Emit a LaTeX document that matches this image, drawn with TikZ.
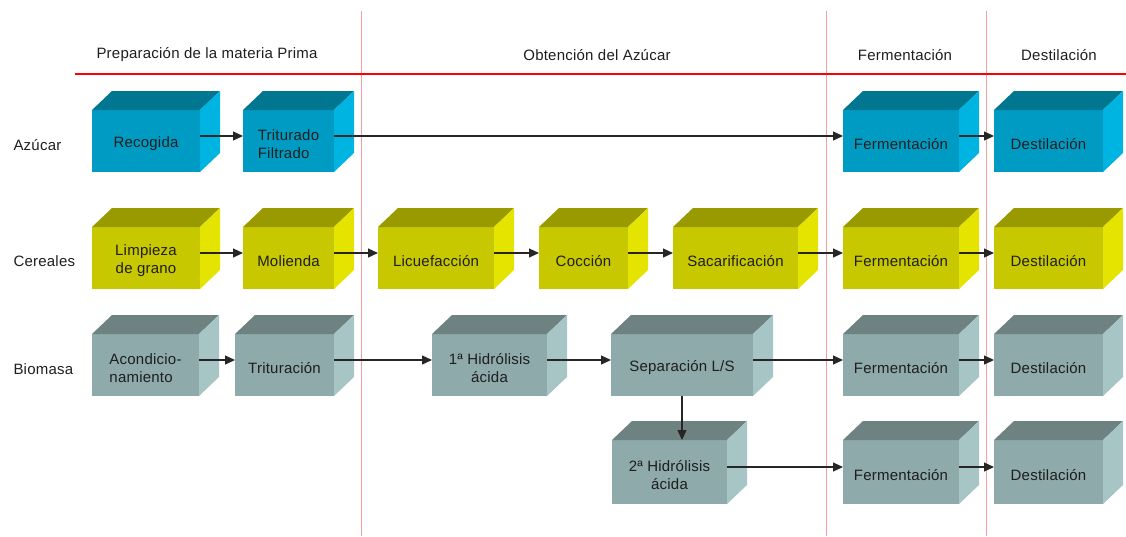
\documentclass[tikz,border=0pt]{standalone}
\usepackage{fontspec}
\setmainfont{Liberation Sans}[LetterSpace=1.5]
\usetikzlibrary{arrows.meta}

% face colours of the three feedstock lines
\definecolor{azfront}{HTML}{009BC3}
\definecolor{aztop}{HTML}{007691}
\definecolor{azside}{HTML}{00B4E1}
\definecolor{cefront}{HTML}{C8C800}
\definecolor{cetop}{HTML}{999900}
\definecolor{ceside}{HTML}{E4E400}
\definecolor{bifront}{HTML}{8EAAAA}
\definecolor{bitop}{HTML}{6E8282}
\definecolor{biside}{HTML}{A8C5C6}
\definecolor{txt}{HTML}{1E1E1E}
\definecolor{divider}{HTML}{F4A0A0}

\tikzset{
  box/.style={rectangle, inner sep=0pt, outer sep=0pt},
  boxtext/.style={inner sep=0pt, text=txt, font=\fontsize{15}{18}\selectfont},
  heading/.style={text=txt, font=\fontsize{15}{18}\selectfont},
  rowlabel/.style={text=txt, font=\fontsize{15}{18}\selectfont, anchor=west},
  flow/.style={-{Triangle[length=10pt,width=9pt]}, line width=1.2pt, draw=black!85},
}

% \cubebox[text options]{name}{x1}{y1}{x2}{y2}{colour family}{text}
% the front face is the named node; top and right faces are filled beside it
\newcommand{\cubebox}[8][align=center]{%
  \node[box, fill=#7front, minimum width={#5pt-#3pt},
        minimum height={#6pt-#4pt}] (#2) at ({(#3+#5)/2},{(#4+#6)/2}) {};
  \fill[#7top] (#2.north west) -- ++(20,-19)
     -- ([shift={(20,-19)}]#2.north east) -- (#2.north east) -- cycle;
  \fill[#7side] (#2.north east) -- ++(20,-19)
     -- ([shift={(20,-19)}]#2.south east) -- (#2.south east) -- cycle;
  \node[boxtext, #1] (#2-t) at ([yshift=-3pt]#2.center) {#8};
}

\begin{document}
\begin{tikzpicture}[x=1pt, y=-1pt]
\useasboundingbox (0,0) rectangle (1126,536);

% stage dividers
\draw[divider, line width=0.9pt] (361,11) -- (361,536);
\draw[divider, line width=0.9pt] (826,11) -- (826,536);
\draw[divider, line width=0.9pt] (986,11) -- (986,536);
\draw[red, line width=1.1pt] (75,74) -- (1126,74);

% stage headings
\node[heading] (h1) at (207,55) {Preparación de la materia Prima};
\node[heading] (h2) at (597,55) {Obtención del Azúcar};
\node[heading] (h3) at (905,55) {Fermentación};
\node[heading] (h4) at (1059,55) {Destilación};

% feedstock labels
\node[rowlabel] (l1) at (10,145) {Azúcar};
\node[rowlabel] (l2) at (10,261) {Cereales};
\node[rowlabel] (l3) at (10,369) {Biomasa};

% sugar line
\cubebox{rec}{92}{110}{200}{172}{az}{Recogida}
\cubebox[align=left]{trit}{243}{110}{334}{172}{az}{Triturado\\Filtrado}
\cubebox{ferm1}{843}{110}{959}{172}{az}{Fermentación}
\cubebox{dest1}{994}{110}{1103}{172}{az}{Destilación}

% cereal line
\cubebox{limp}{92}{227}{200}{289}{ce}{Limpieza\\de grano}
\cubebox{mol}{243}{227}{334}{289}{ce}{Molienda}
\cubebox{licu}{378}{227}{494}{289}{ce}{Licuefacción}
\cubebox{cocc}{539}{227}{628}{289}{ce}{Cocción}
\cubebox{saca}{673}{227}{798}{289}{ce}{Sacarificación}
\cubebox{ferm2}{843}{227}{959}{289}{ce}{Fermentación}
\cubebox{dest2}{994}{227}{1103}{289}{ce}{Destilación}

% biomass line
\cubebox[align=left]{acon}{92}{334}{199}{396}{bi}{Acondicio-\\namiento}
\cubebox{tritu}{235}{334}{334}{396}{bi}{Trituración}
\cubebox{hid1}{432}{334}{547}{396}{bi}{1ª Hidrólisis\\ácida}
\cubebox{sep}{611}{334}{753}{396}{bi}{Separación L/S}
\cubebox{ferm3}{843}{334}{959}{396}{bi}{Fermentación}
\cubebox{dest3}{994}{334}{1103}{396}{bi}{Destilación}
\cubebox{hid2}{612}{440}{727}{504}{bi}{2ª Hidrólisis\\ácida}
\cubebox{ferm4}{843}{440}{959}{504}{bi}{Fermentación}
\cubebox{dest4}{994}{440}{1103}{504}{bi}{Destilación}

% process flow
\foreach \a/\b in {rec/trit, trit/ferm1, ferm1/dest1,
                   limp/mol, mol/licu, licu/cocc, cocc/saca, saca/ferm2, ferm2/dest2,
                   acon/tritu, tritu/hid1, hid1/sep, sep/ferm3, ferm3/dest3,
                   hid2/ferm4, ferm4/dest4}
  \draw[flow] ([yshift=5pt]\a.east) -- ([yshift=5pt]\b.west);
\draw[flow] (sep.south) -- (sep.south |- hid2.north);
\end{tikzpicture}
\end{document}
